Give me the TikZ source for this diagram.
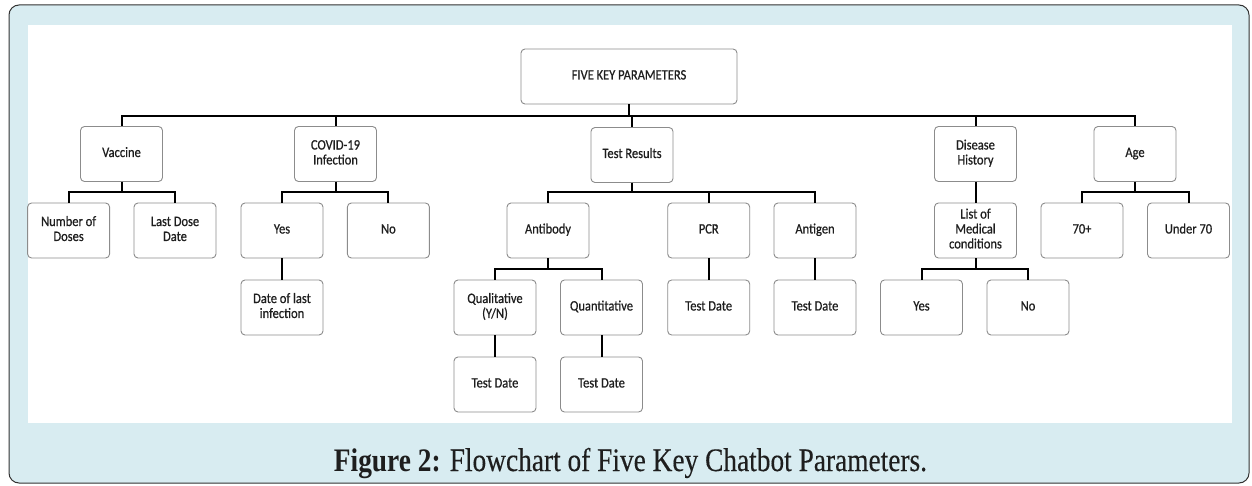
\documentclass[tikz,border=0pt]{standalone}
\usepackage{fontspec}
\usepackage{graphicx}
\setmainfont{Carlito}
\newfontfamily\boxfont[FakeBold=0.7]{Carlito}
\newfontfamily\capfont[FakeBold=0.3]{Liberation Serif}
\newfontfamily\capbold{Liberation Serif Bold}
\definecolor{framebg}{RGB}{216,236,241}
\definecolor{boxline}{RGB}{140,140,140}
\definecolor{txt}{RGB}{30,30,30}
\newcommand{\bxt}[1]{\scalebox{1}[1.15]{\begin{tabular}{@{}c@{}}#1\end{tabular}}}
\begin{document}
\begin{tikzpicture}[x=1pt,y=-1pt,
  pbox/.style={draw=boxline, line width=0.9pt, rounded corners=4pt, fill=white,
    minimum width=82pt, minimum height=55pt, inner sep=0pt, text=txt,
    font=\boxfont\fontsize{12.5}{13}\selectfont},
  conn/.style={draw=black, line width=2pt}]
\useasboundingbox (0,0) rectangle (1252,486);
% frame and white panel
\draw[fill=framebg, draw=black!80, line width=1pt, rounded corners=10pt] (9,5) rectangle (1249,483);
\fill[white] (28,25) rectangle (1232,423);
% bus levels
\coordinate (b0) at (0,116);
\coordinate (b1) at (0,192);
\coordinate (b2) at (0,269);
% root
\node[pbox, minimum width=216pt] (root) at (629,76.5) {\bxt{FIVE KEY PARAMETERS}};
% level 1
\node[pbox] (vac) at (121.5,154) {\bxt{Vaccine}};
\node[pbox] (cov) at (335.5,154) {\bxt{COVID-19\\Infection}};
\node[pbox] (tr)  at (632,155)   {\bxt{Test Results}};
\node[pbox] (dh)  at (975.5,154) {\bxt{Disease\\History}};
\node[pbox] (age) at (1135,154)  {\bxt{Age}};
% level 2
\node[pbox] (nd)  at (68.6,230.5)  {\bxt{Number of\\Doses}};
\node[pbox] (ld)  at (175,230.5)   {\bxt{Last Dose\\Date}};
\node[pbox] (cy)  at (282,230.5)   {\bxt{Yes}};
\node[pbox] (cn)  at (388.4,230.5) {\bxt{No}};
\node[pbox] (ab)  at (548,230.5)   {\bxt{Antibody}};
\node[pbox] (pcr) at (708.7,230.5) {\bxt{PCR}};
\node[pbox] (ag)  at (815,230.5)   {\bxt{Antigen}};
\node[pbox] (lm)  at (975.5,230.5) {\bxt{List of\\Medical\\conditions}};
\node[pbox] (a70) at (1082,230.5)  {\bxt{70+}};
\node[pbox] (u70) at (1188.5,230.5){\bxt{Under 70}};
% level 3
\node[pbox] (dl)  at (282,307.5)   {\bxt{Date of last\\infection}};
\node[pbox] (ql)  at (495,307.5)   {\bxt{Qualitative\\(Y/N)}};
\node[pbox] (qn)  at (601.5,307.5) {\bxt{Quantitative}};
\node[pbox] (pd)  at (708.7,307.5) {\bxt{Test Date}};
\node[pbox] (agd) at (815,307.5)   {\bxt{Test Date}};
\node[pbox] (my)  at (921.5,307.5) {\bxt{Yes}};
\node[pbox] (mn)  at (1028,307.5)  {\bxt{No}};
% level 4
\node[pbox] (qld) at (495,384.5)   {\bxt{Test Date}};
\node[pbox] (qnd) at (601.5,384.5) {\bxt{Test Date}};
% connectors root
\foreach \c in {vac,cov,tr,dh,age}
  \draw[conn] (root.south) -- (root.south |- b0) -| (\c.north);
% level 1 -> 2
\foreach \p/\c in {vac/nd,vac/ld,cov/cy,cov/cn,tr/ab,tr/pcr,tr/ag,age/a70,age/u70}
  \draw[conn] (\p.south) -- (\p.south |- b1) -| (\c.north);
\draw[conn] (dh.south) -- (lm.north);
% level 2 -> 3
\foreach \p/\c in {ab/ql,ab/qn,lm/my,lm/mn}
  \draw[conn] (\p.south) -- (\p.south |- b2) -| (\c.north);
\draw[conn] (cy.south) -- (dl.north);
\draw[conn] (pcr.south) -- (pd.north);
\draw[conn] (ag.south) -- (agd.north);
% level 3 -> 4
\draw[conn] (ql.south) -- (qld.north);
\draw[conn] (qn.south) -- (qnd.north);
% caption
\node[anchor=base, inner sep=0pt, text=txt] (cap) at (630.5,471)
  {\scalebox{1}[1.2]{\resizebox{593pt}{!}{{\capbold Figure 2:}\capfont{} Flowchart of Five Key Chatbot Parameters.}}};
\end{tikzpicture}
\end{document}
